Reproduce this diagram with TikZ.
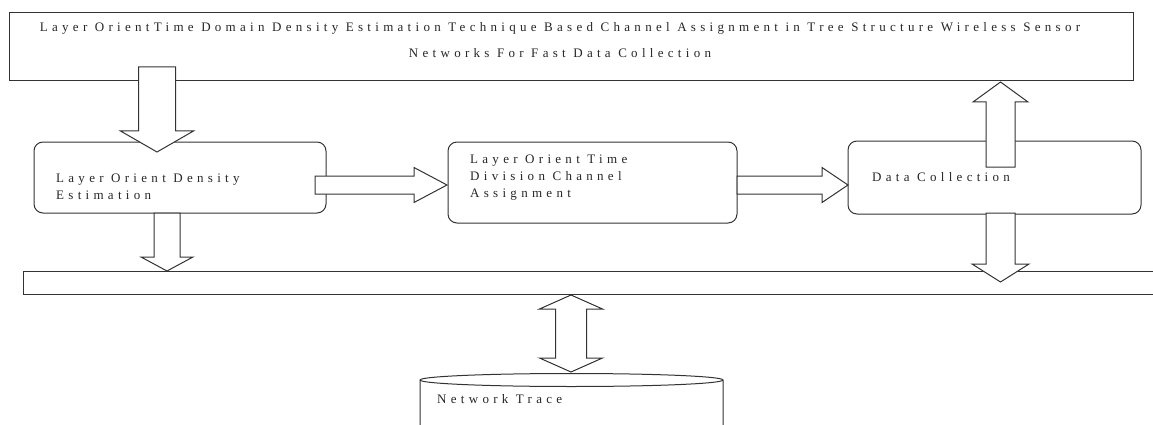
\documentclass[tikz,border=0pt]{standalone}
\usepackage{fontspec}
\setmainfont{Liberation Serif}
\newfontfamily\diagfont[LetterSpace=33]{Liberation Serif}
\usetikzlibrary{calc}

\tikzset{
  frame/.style={draw=black!80, line width=1pt},
  block/.style={frame, rounded corners=9pt},
  blockarrow/.style={draw=black!80, fill=white, line width=1pt, line join=miter},
  label text/.style={text=black!85, inner sep=0pt, align=left,
    font=\diagfont\fontsize{13}{17}\selectfont}
}

% hollow block arrow: from, to, shaft half width, head half width, head length
\newcommand{\fatarrow}[5]{%
  \coordinate (fa base) at ($(#2)!#5!(#1)$);
  \draw[blockarrow] ($(#1)!#3!90:(#2)$) -- ($(fa base)!#3!90:(#2)$)
    -- ($(fa base)!#4!90:(#2)$) -- (#2) -- ($(fa base)!#4!-90:(#2)$)
    -- ($(fa base)!#3!-90:(#2)$) -- ($(#1)!#3!-90:(#2)$) -- cycle;
}
% same, with a head at both ends
\newcommand{\fatdouble}[5]{%
  \coordinate (fd a) at ($(#1)!#5!(#2)$);
  \coordinate (fd b) at ($(#2)!#5!(#1)$);
  \draw[blockarrow] (#1) -- ($(fd a)!#4!90:(#2)$) -- ($(fd a)!#3!90:(#2)$)
    -- ($(fd b)!#3!90:(#2)$) -- ($(fd b)!#4!90:(#2)$) -- (#2)
    -- ($(fd b)!#4!-90:(#2)$) -- ($(fd b)!#3!-90:(#2)$)
    -- ($(fd a)!#3!-90:(#2)$) -- ($(fd a)!#4!-90:(#2)$) -- cycle;
}

\begin{document}
\begin{tikzpicture}[x=1pt, y=-1pt]

  \useasboundingbox (0,0) rectangle (1153,425);
  \clip (0,0) rectangle (1153,425);

  % boxes
  \node[frame, minimum width=1124pt, minimum height=68pt] (title) at (571,47) {};
  \node[block, minimum width=292pt, minimum height=71pt] (densbox) at (180,177.5) {};
  \node[block, minimum width=289pt, minimum height=81pt] (timebox) at (592.5,182.5) {};
  \node[block, minimum width=293pt, minimum height=73pt] (collbox) at (994.5,177.5) {};
  \node[frame, minimum width=1142pt, minimum height=23pt] (bus) at (594,282.5) {};

  % network trace store
  \draw[frame, fill=white] (420,440) -- (420,380)
    arc[start angle=180, end angle=0, x radius=151.5pt, y radius=6.5pt]
    -- (723,440);
  \draw[frame] (723,380)
    arc[start angle=0, end angle=-180, x radius=151.5pt, y radius=6.5pt];

  % texts
  \node[label text, align=center, font=\diagfont\fontsize{13}{26}\selectfont] (titletext) at (560,40)
    {Layer OrientTime Domain Density Estimation Technique Based Channel Assignment in Tree Structure Wireless Sensor\\
     Networks For Fast Data Collection};
  \node[label text, anchor=west] (denstext) at (56,187) {Layer Orient Density\\Estimation};
  \node[label text, anchor=west] (timetext) at (470,178) {Layer Orient Time\\Division Channel\\Assignment};
  \node[label text, anchor=west] (colltext) at (872,177.5) {Data Collection};
  \node[label text, anchor=west] (tracetext) at (437,399) {Network Trace};

  % arrow ends
  \coordinate (titleout) at (157,67);
  \coordinate (densin) at (157,152);
  \coordinate (densout) at (167,213);
  \coordinate (busin) at (167,271);
  \coordinate (densright) at (315,185);
  \coordinate (timeleft) at (447,185);
  \coordinate (timeright) at (737,185);
  \coordinate (collleft) at (848,185);
  \coordinate (collup) at (1000.5,167);
  \coordinate (titlein) at (1000.5,82);
  \coordinate (colldown) at (1000.5,213);
  \coordinate (busin2) at (1000.5,282);
  \coordinate (busout) at (571,295);
  \coordinate (tracein) at (571,372);

  % arrows
  \fatarrow{titleout}{densin}{18.5pt}{36.5pt}{21pt}
  \fatarrow{densout}{busin}{13pt}{26pt}{14pt}
  \fatarrow{densright}{timeleft}{9pt}{17.5pt}{33pt}
  \fatarrow{timeright}{collleft}{9pt}{17.5pt}{26pt}
  \fatarrow{collup}{titlein}{14.5pt}{27.5pt}{20pt}
  \fatarrow{colldown}{busin2}{14.5pt}{28.5pt}{18pt}
  \fatdouble{busout}{tracein}{15.5pt}{31.5pt}{14pt}

\end{tikzpicture}
\end{document}
